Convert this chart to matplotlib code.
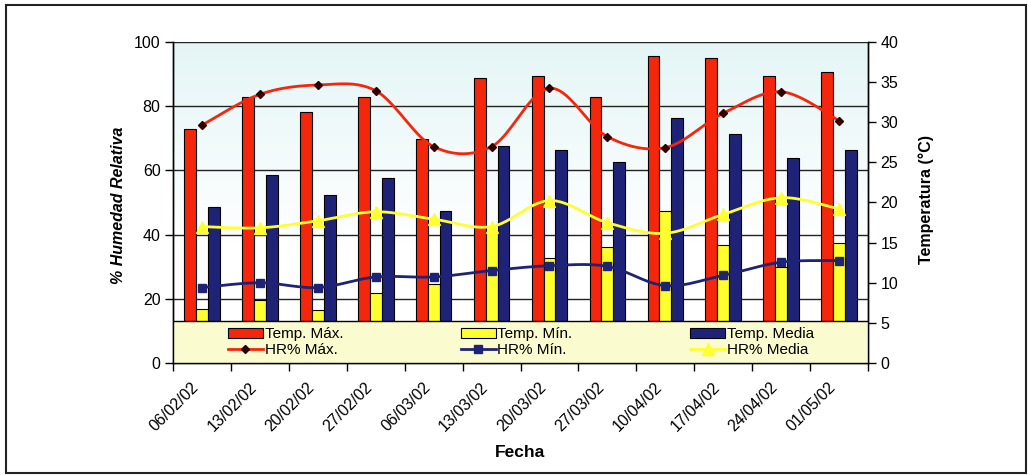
#!/usr/bin/env python
# -*- coding: utf-8 -*-

import numpy as np
import matplotlib
matplotlib.use('Agg')
import matplotlib.pyplot as plt
import matplotlib.transforms as mtransforms
from matplotlib.patches import Rectangle, Patch
from matplotlib.lines import Line2D
from matplotlib.ticker import FixedLocator, NullFormatter

plt.rcParams['font.family'] = ['Liberation Sans', 'DejaVu Sans']

# data
fechas = ['06/02/02', '13/02/02', '20/02/02', '27/02/02', '06/03/02', '13/03/02',
          '20/03/02', '27/03/02', '10/04/02', '17/04/02', '24/04/02', '01/05/02']
temp_max = [29.2, 33.1, 31.3, 33.2, 27.9, 35.5, 35.8, 33.2, 38.3, 38.0, 35.8, 36.3]
temp_min = [6.7, 7.9, 6.6, 8.7, 9.8, 16.5, 13.1, 14.4, 18.9, 14.7, 12.0, 14.9]
temp_media = [19.4, 23.4, 20.9, 23.0, 19.0, 27.1, 26.5, 25.1, 30.5, 28.5, 25.6, 26.6]
hr_max = [74.1, 83.7, 86.6, 84.8, 67.4, 67.4, 85.6, 70.5, 67.1, 77.8, 84.5, 75.5]
hr_min = [23.5, 25.0, 23.5, 26.8, 26.8, 28.8, 30.3, 30.1, 24.1, 27.3, 31.4, 31.9]
hr_media = [42.5, 42.1, 44.3, 47.1, 44.8, 42.5, 50.6, 43.7, 40.4, 46.3, 51.5, 48.0]

RED = '#f4260c'
YELLOW = '#ffff30'
NAVY = '#1f2377'


def smooth(x, y, n=24):
    """
    Excel-like smoothed line (bezier through the points), only for drawing
    """
    p = np.column_stack([x, y]).astype(float)
    p = np.vstack([p[0], p, p[-1]])
    t = np.linspace(0, 1, n)[:, None]
    out = []
    for i in range(1, len(p) - 2):
        p0, p1, p2, p3 = p[i - 1], p[i], p[i + 1], p[i + 2]
        c1 = p1 + (p2 - p0) / 6.0
        c2 = p2 - (p3 - p1) / 6.0
        seg = ((1 - t) ** 3) * p1 + 3 * ((1 - t) ** 2) * t * c1 + 3 * (1 - t) * t ** 2 * c2 + t ** 3 * p2
        out.append(seg if i == 1 else seg[1:])
    out = np.vstack(out)
    return out[:, 0], out[:, 1]


def main():
    fig = plt.figure(figsize=(10.28, 4.75), dpi=100)
    ax = fig.add_axes([0.1683, 0.2358, 0.6761, 0.6758])
    ax2 = ax.twinx()
    # lines (left axis) above the bars (right axis)
    ax.set_zorder(ax2.get_zorder() + 1)
    ax.patch.set_visible(False)

    index = np.arange(len(fechas))
    bar_width = 0.205

    # pale cyan background fading to white
    grad = np.clip(np.linspace(1, -0.6, 256), 0, 1)[:, None]
    top = np.array([0.895, 0.962, 0.965])
    img = np.ones((256, 1, 3)) - (1 - top) * grad[:, :, None]
    ax2.imshow(img, extent=[0, 1, 0, 1], transform=ax2.transAxes, aspect='auto', zorder=0)

    # gridlines belong to the left axis
    for v in [20, 40, 60, 80, 100]:
        ax2.plot([0, 1], [v * 0.4, v * 0.4], transform=ax2.get_yaxis_transform(),
                 color='#222222', lw=1.0, zorder=1)

    ax2.bar(index - bar_width, temp_max, width=bar_width, color=RED, edgecolor='black', lw=0.8, zorder=2)
    ax2.bar(index, temp_min, width=bar_width, color=YELLOW, edgecolor='black', lw=0.8, zorder=2)
    ax2.bar(index + bar_width, temp_media, width=bar_width, color=NAVY, edgecolor='black', lw=0.8, zorder=2)

    for vals, col, mk, ms, mc in [(hr_max, RED, 'D', 4.5, '#300000'),
                                  (hr_min, NAVY, 's', 5.5, NAVY),
                                  (hr_media, YELLOW, '^', 8, YELLOW)]:
        sx, sy = smooth(index, vals)
        ax.plot(sx, sy, color=col, lw=2.0, zorder=3, solid_capstyle='round')
        ax.plot(index, vals, ls='none', marker=mk, ms=ms, color=mc, mec=mc, zorder=3)

    ax.set_xlim(-0.5, len(fechas) - 0.5)
    ax.set_ylim(0, 100)
    ax2.set_ylim(0, 40)

    # legend box across the bottom of the plot area
    ax.add_patch(Rectangle((0, 0), 1, 0.131, transform=ax.transAxes, facecolor='#fbfbd0',
                           edgecolor='black', lw=1.0, zorder=4))
    handles = [Patch(facecolor=RED, edgecolor='black', lw=0.8),
               Line2D([], [], color=RED, lw=2, marker='D', ms=4.5, mfc='#300000', mec='#300000'),
               Patch(facecolor=YELLOW, edgecolor='black', lw=0.8),
               Line2D([], [], color=NAVY, lw=2, marker='s', ms=5.5),
               Patch(facecolor=NAVY, edgecolor='black', lw=0.8),
               Line2D([], [], color=YELLOW, lw=2, marker='^', ms=8)]
    labels = ['Temp. Máx.', 'HR% Máx.', 'Temp. Mín.', 'HR% Mín.', 'Temp. Media', 'HR% Media']
    leg = ax.legend(handles, labels, ncol=3, loc='center left', bbox_to_anchor=(0.079, 0.0655),
                    frameon=False, fontsize=11, handlelength=2.3, handleheight=0.6,
                    handletextpad=0.1, columnspacing=7.7, labelspacing=0.1, borderpad=0,
                    borderaxespad=0)
    leg.set_zorder(5)

    # axes and ticks
    ax.spines['top'].set_visible(False)
    ax2.spines['top'].set_visible(False)
    ax.xaxis.set_major_locator(FixedLocator(np.arange(-0.5, len(fechas), 1.0)))
    ax.xaxis.set_major_formatter(NullFormatter())
    ax.tick_params(axis='x', which='major', direction='out', length=6, width=1)
    # date labels, rotated, ending a little left of the category centre
    offset = mtransforms.ScaledTranslation(-11 / 100, -17 / 100, fig.dpi_scale_trans)
    for i, lab in zip(index, fechas):
        ax.text(i, 0, lab, transform=ax.get_xaxis_transform() + offset, rotation=45,
                ha='right', va='top', rotation_mode='anchor', fontsize=11.5, clip_on=False)
    ax.set_yticks([0, 20, 40, 60, 80, 100])
    ax.tick_params(axis='y', direction='out', length=6, width=1, labelsize=11.5, pad=3)
    ax2.set_yticks(range(0, 41, 5))
    ax2.tick_params(axis='y', direction='out', length=6, width=1, labelsize=11.5, pad=3)
    for a in (ax, ax2):
        for s in a.spines.values():
            s.set_linewidth(1.0)

    fig.text(0.115, 0.568, '% Humedad Relativa', rotation=90, ha='center', va='center',
             fontsize=11.5, fontweight='bold', style='italic')
    fig.text(0.901, 0.579, 'Temperatura (°C)', rotation=90, ha='center', va='center',
             fontsize=11.5, fontweight='bold')
    fig.text(0.506, 0.048, 'Fecha', ha='center', va='center', fontsize=12.5, fontweight='bold')

    # outer frame of the chart
    fig.patches.append(Rectangle((0.0058, 0.0042), 0.992, 0.985, transform=fig.transFigure,
                                 fill=False, edgecolor='#222222', lw=1.5))

    fig.savefig('out.png', dpi=100)


if __name__ == "__main__":
    main()
